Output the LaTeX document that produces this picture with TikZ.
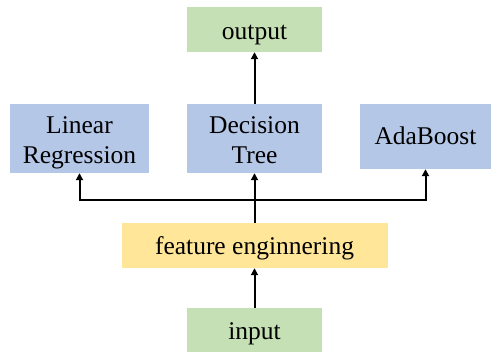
\documentclass[tikz,border=0pt]{standalone}
\usepackage{fontspec}
\setmainfont{Liberation Serif}
\usetikzlibrary{arrows.meta}
\definecolor{boxgreen}{HTML}{C5E0B4}
\definecolor{boxblue}{HTML}{B4C7E7}
\definecolor{boxyellow}{HTML}{FFE699}
\newcommand{\twoline}[2]{\begin{tabular}[t]{@{}c@{}}#1\\#2\end{tabular}}
\tikzset{
  box/.style={rectangle, inner sep=0pt, text depth=0pt, font=\rmfamily\fontsize{25.5}{30.7}\selectfont},
  twobox/.style={rectangle, inner sep=0pt, text height=0pt, text depth=10.4pt, font=\rmfamily\fontsize{25.5}{30.7}\selectfont},
  arr/.style={line width=2pt, -{Triangle[length=7pt,width=7pt]}}
}
\begin{document}
\begin{tikzpicture}[x=1pt,y=-1pt]
\useasboundingbox (0,0) rectangle (491,352);
\node[box, text height=21pt, fill=boxgreen, minimum width=135pt, minimum height=45pt] (out) at (254.5,29.5) {output};
\node[twobox, fill=boxblue, minimum width=139pt, minimum height=69pt] (lr) at (79.5,138.5) {\twoline{Linear}{Regression}};
\node[twobox, fill=boxblue, minimum width=135pt, minimum height=69pt] (dt) at (254.5,138.5) {\twoline{Decision}{Tree}};
\node[box, text height=15.6pt, fill=boxblue, minimum width=131pt, minimum height=65pt] (ab) at (425.5,136.5) {AdaBoost};
\node[box, text height=19pt, fill=boxyellow, minimum width=266pt, minimum height=45pt] (fe) at (254.5,245.5) {feature enginnering};
\node[box, text height=18.6pt, fill=boxgreen, minimum width=135pt, minimum height=44pt] (in) at (254.5,330) {input};
\coordinate (j) at (254.5,200);
\draw[arr] (in.north) -- (fe.south);
\draw[arr] (fe.north) -- (dt.south);
\draw[arr] (j) -| (lr.south);
\draw[arr] (j) -| (ab.south);
\draw[arr] (dt.north) -- (out.south);
\end{tikzpicture}
\end{document}
